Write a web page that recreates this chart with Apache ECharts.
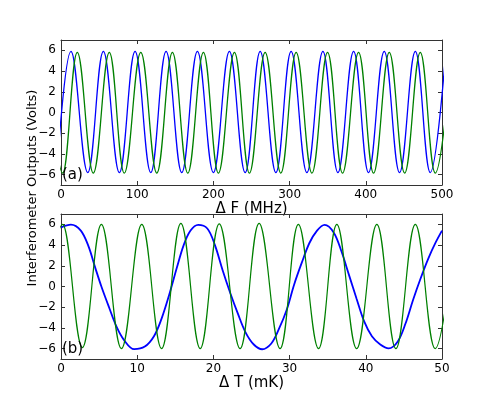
<!DOCTYPE html>
<html>
<head>
<meta charset="utf-8">
<script src="https://cdn.jsdelivr.net/npm/echarts@6/dist/echarts.min.js"></script>
<style>
  html, body { margin: 0; padding: 0; background: #fff; }
  #chart { width: 491px; height: 399px; }
</style>
</head>
<body>
<div id="chart"></div>
<script>
// --- data: peaks and troughs (first/last entries lie just outside the axis and get clipped) ---
// (a) frequency scan, x in MHz
const topBlue = [[-5.5,-5.8],[13.1,5.9],[35.1,-5.8],[55.6,5.9],[76.6,-5.8],[97.2,5.9],[117.8,-5.8],[137.9,5.9],
  [158.5,-5.8],[179,5.9],[200,-5.8],[221,5.9],[241.7,-5.8],[261.4,5.9],[282,-5.8],[302,5.9],[322.7,-5.8],
  [343.7,5.9],[363.4,-5.8],[384,5.9],[403.6,-5.8],[424.2,5.9],[444.3,-5.8],[465,5.9],[484.6,-5.8],[505,5.9]];
const topGreen = [[-18.2,5.8],[2.2,-5.85],[21.4,5.8],[42.4,-5.85],[63.4,5.8],[83.1,-5.85],[104.7,5.8],[125.7,-5.85],
  [146.2,5.8],[166.4,-5.85],[186.9,5.8],[206.6,-5.85],[227.6,5.8],[247.3,-5.85],[267.9,5.8],[288.5,-5.85],
  [308.6,5.8],[329.3,-5.85],[349.8,5.8],[369.5,-5.85],[390.5,5.8],[410.2,-5.85],[430.8,5.8],[451,-5.85],
  [471.5,5.8],[491.2,-5.85],[513,5.8]];

// (b) temperature scan, x in mK
const botBlue = [[0,5.7],[1.3,5.97],[2.6,5.4],[3.6,3.9],[4.5,1.8],[5.3,0],[6.3,-2.0],[7.3,-3.9],[8.3,-5.2],[9.6,-6.05],
  [11.0,-5.8],[12.2,-4.8],[13.2,-3.1],[14.2,-0.8],[15.2,1.8],[16.1,4.0],[17.0,5.4],[18.0,5.95],
  [19.2,5.6],[20.2,4.0],[21.2,1.6],[22.2,-0.6],[23.2,-2.6],[24.2,-4.4],[25.3,-5.6],[26.4,-6.06],
  [27.6,-5.5],[28.6,-4.1],[29.6,-2.3],[30.6,0.2],[31.6,2.3],[32.6,4.2],[33.6,5.4],[34.6,5.95],
  [35.8,5.2],[36.8,3.4],[37.8,1.1],[38.8,-1.2],[39.8,-3.4],[40.8,-4.8],[41.9,-5.6],[43.0,-5.97],
  [44.2,-5.3],[45.2,-3.6],[46.2,-1.3],[47.2,0.8],[48.2,2.7],[49.2,4.3],[50,5.4]];
const botGreen = [[-2.4,-6.0],[0.2,6.0],[2.8,-5.9],[5.3,6.0],[7.93,-6.0],[10.6,6.0],[13.2,-6.0],[15.73,6.1],
  [18.27,-6.0],[20.77,6.05],[23.5,-6.0],[26.0,6.1],[28.75,-6.0],[31.15,6.0],[33.8,-6.0],[36.2,6.0],[38.8,-6.0],
  [41.45,6.0],[43.95,-6.0],[46.5,6.0],[49.1,-6.0],[51.8,6.0]];

const yTicks = [-6, -4, -2, 0, 2, 4, 6];
const xRangeTop = [0, 500, 100];
const xRangeBot = [0, 50, 10];

const FONT = 'DejaVu Sans';
const FRAME = '#333';
const minus = v => String(v).replace('-', '\u2212');

function xAxes(grid, range, name, nameGap) {
    const base = {
        gridIndex: grid, type: 'value', min: range[0], max: range[1], interval: range[2],
        axisLine: { show: true, onZero: false, lineStyle: { color: FRAME, width: 1 } },
        axisTick: { show: true, inside: true, length: 4, lineStyle: { color: FRAME } },
        splitLine: { show: false }
    };
    return [
        { ...base, position: 'bottom', name: name, nameLocation: 'middle', nameGap: nameGap,
          nameTextStyle: { fontFamily: FONT, fontSize: 15, color: '#000' },
          axisLabel: { fontFamily: FONT, fontSize: 12, color: '#000', margin: 4, formatter: minus } },
        { ...base, position: 'top', axisLabel: { show: false } }
    ];
}

function yAxes(grid) {
    const base = {
        gridIndex: grid, type: 'value', min: -7, max: 7,
        axisLine: { show: true, onZero: false, lineStyle: { color: FRAME, width: 1 } },
        axisTick: { show: true, inside: true, length: 4, customValues: yTicks, lineStyle: { color: FRAME } },
        splitLine: { show: false }
    };
    return [
        { ...base, position: 'left',
          axisLabel: { fontFamily: FONT, fontSize: 12, color: '#000', margin: 5, customValues: yTicks, formatter: minus } },
        { ...base, position: 'right', axisLabel: { show: false } }
    ];
}

function line(data, color, xi, yi, width, smooth) {
    return {
        type: 'line', data: data, xAxisIndex: xi, yAxisIndex: yi, clip: true,
        showSymbol: false, smooth: smooth, lineStyle: { color: color, width: width }, silent: true
    };
}

const chart = echarts.init(document.getElementById('chart'), null, { renderer: 'canvas' });
chart.setOption({
    animation: false,
    backgroundColor: '#fff',
    grid: [
        { left: 61, top: 40, width: 381, height: 145 },
        { left: 61, top: 214, width: 381, height: 145 }
    ],
    xAxis: [...xAxes(0, xRangeTop, 'Δ F (MHz)', 14), ...xAxes(1, xRangeBot, 'Δ T (mK)', 14)],
    yAxis: [...yAxes(0), ...yAxes(1)],
    series: [
        line(topBlue, '#0000ff', 0, 0, 1.3, 0.4),
        line(topGreen, '#008000', 0, 0, 1.3, 0.4),
        line(botBlue, '#0000ff', 2, 2, 1.8, 0.35),
        line(botGreen, '#008000', 2, 2, 1.2, 0.4)
    ],
    graphic: [
        { type: 'text', left: 62, top: 168, z: 10, style: { text: '(a)', fontFamily: FONT, fontSize: 15, fill: '#000' } },
        { type: 'text', left: 62, top: 342, z: 10, style: { text: '(b)', fontFamily: FONT, fontSize: 15, fill: '#000' } },
        { type: 'text', x: 33, y: 188, rotation: Math.PI / 2,
          style: { text: 'Interferometer Outputs (Volts)', fontFamily: FONT, fontSize: 13, fill: '#000',
                   align: 'center', verticalAlign: 'middle' } }
    ]
});
</script>
</body>
</html>
